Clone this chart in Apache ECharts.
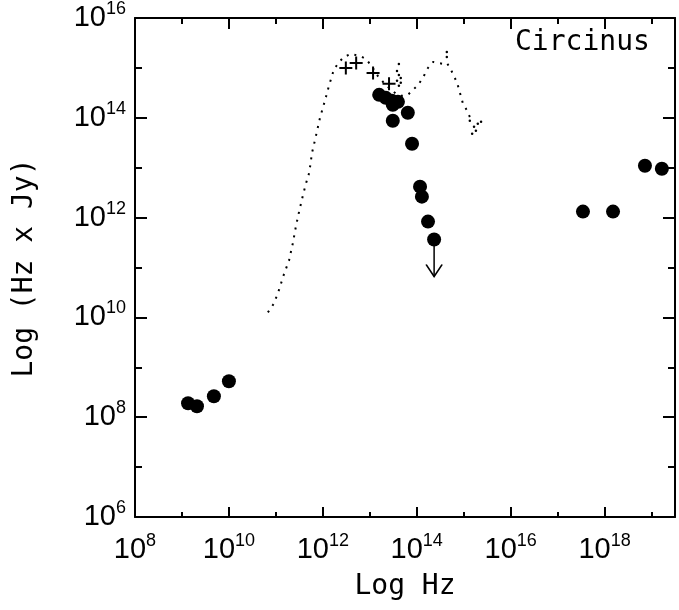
<!DOCTYPE html>
<html><head><meta charset="utf-8">
<script src="https://cdn.jsdelivr.net/npm/echarts@6/dist/echarts.min.js"></script>
<style>html,body{margin:0;padding:0;background:#fff}#c{width:679px;height:610px}</style>
</head><body><div id="c"></div>
<script>
// All values are log10 (Hz) and log10 (Hz x Jy)
const xLabelExponents = [8, 10, 12, 14, 16, 18];
const yLabelExponents = [6, 8, 10, 12, 14, 16];

const radioLogNu   = [9.13, 9.32, 9.68, 10.00];
const radioLogFlux = [8.28, 8.22, 8.42, 8.72];

const irLogNu   = [13.20, 13.34, 13.47, 13.60, 13.49, 13.81, 13.49, 13.90, 14.07, 14.11, 14.24, 14.37];
const irLogFlux = [14.46, 14.40, 14.34, 14.32, 14.26, 14.10, 13.94, 13.48, 12.62, 12.42, 11.92, 11.56];

const xrayLogNu   = [17.54, 18.18, 18.86, 19.22];
const xrayLogFlux = [12.12, 12.12, 13.04, 12.98];

const crossLogNu   = [12.49, 12.71, 13.07, 13.41];
const crossLogFlux = [15.00, 15.10, 14.90, 14.68];

const limitLogNu = 14.37;
const limitFrom  = 11.56;
const limitTo    = 10.82;

const modelLogNu = [10.83, 10.96, 11.07, 11.17, 11.28, 11.36, 11.43, 11.49, 11.58, 11.64, 11.71, 11.77, 11.83, 11.94, 12.05, 12.13, 12.24, 12.37, 12.45, 12.60, 12.79, 12.92, 13.05, 13.17, 13.30, 13.43, 13.56, 13.69, 13.81, 13.92, 14.03, 14.13, 14.24, 14.35, 14.45, 14.56, 14.64, 14.71, 14.77, 14.86, 14.92, 14.98, 15.05, 15.11, 15.18];
const modelLogFlux = [10.10, 10.28, 10.56, 10.86, 11.14, 11.48, 11.84, 12.10, 12.46, 12.68, 12.90, 13.30, 13.54, 14.00, 14.36, 14.64, 14.98, 15.14, 15.22, 15.28, 15.24, 15.18, 15.02, 14.84, 14.70, 14.58, 14.48, 14.44, 14.46, 14.56, 14.66, 14.80, 15.00, 15.12, 15.10, 15.08, 15.10, 15.00, 14.88, 14.70, 14.50, 14.30, 14.18, 14.06, 13.92];

const extraLogNu   = [13.62, 13.58, 13.62, 13.66, 13.58, 13.66, 13.62, 14.64, 14.64, 15.13, 15.22, 15.30, 15.37, 15.26, 15.18];
const extraLogFlux = [15.08, 14.94, 14.86, 14.80, 14.74, 14.70, 14.64, 15.32, 15.22, 13.94, 13.82, 13.88, 13.92, 13.74, 13.68];

const zip = (a, b) => a.map((v, i) => [v, b[i]]);

const rich = {
  b: {fontFamily: 'Liberation Sans', fontSize: 29, color: '#000'},
  s: {fontFamily: 'Liberation Sans', fontSize: 18, color: '#000', padding: [0, 0, 18, 0]}
};
function labelFmt(list) {
  return v => list.includes(v) ? '{b|10}{s|' + v + '}' : '';
}
const black = '#000';
function axis(kind, pos, interval, len, showLabel, showLine) {
  const isX = kind === 'x';
  return {
    type: 'value', position: pos,
    min: isX ? 8 : 6, max: isX ? 19.5 : 16, interval: interval,
    axisLine: {show: showLine, onZero: false, lineStyle: {color: black, width: 2}},
    axisTick: {show: true, inside: true, length: len, lineStyle: {color: black, width: 2}},
    axisLabel: {show: showLabel, margin: isX ? 15 : 9, rich: rich,
      formatter: labelFmt(isX ? xLabelExponents : yLabelExponents)},
    splitLine: {show: false}
  };
}

const chart = echarts.init(document.getElementById('c'), null, {renderer: 'canvas'});
const dotStyle = {color: black, opacity: 1};
chart.setOption({
  animation: false,
  backgroundColor: '#fff',
  grid: {left: 135, right: 4, top: 17, bottom: 93, containLabel: false},
  xAxis: [
    axis('x', 'bottom', 2, 10, true, true),
    axis('x', 'bottom', 1, 5, false, false),
    axis('x', 'top', 2, 11, false, true),
    axis('x', 'top', 1, 6, false, false)
  ],
  yAxis: [
    axis('y', 'left', 2, 12, true, true),
    axis('y', 'left', 1, 7, false, false),
    axis('y', 'right', 2, 12, false, true),
    axis('y', 'right', 1, 7, false, false)
  ],
  graphic: [
    {type: 'text', x: 25, y: 268, rotation: Math.PI / 2,
     style: {text: 'Log (Hz x Jy)', font: '28px "DejaVu Sans Mono"', fill: black,
             align: 'center', verticalAlign: 'middle', textAlign: 'center', textVerticalAlign: 'middle'}},
    {type: 'text', x: 405, y: 587,
     style: {text: 'Log Hz', font: '28px "DejaVu Sans Mono"', fill: black,
             align: 'center', verticalAlign: 'middle', textAlign: 'center', textVerticalAlign: 'middle'}},
    {type: 'text', x: 515, y: 43,
     style: {text: 'Circinus', font: '28px "DejaVu Sans Mono"', fill: black,
             align: 'left', verticalAlign: 'middle', textAlign: 'left', textVerticalAlign: 'middle'}}
  ],
  series: [
    {type: 'line', data: zip(modelLogNu, modelLogFlux), symbol: 'none', silent: true,
     lineStyle: {color: black, width: 2, type: [2, 6]}},
    {type: 'scatter', data: zip(extraLogNu, extraLogFlux), symbol: 'circle', symbolSize: 2.5, itemStyle: dotStyle, silent: true},
    {type: 'scatter', data: zip(crossLogNu, crossLogFlux), symbol: 'path://M6 0V12M0 6H12', symbolSize: 13,
     itemStyle: {color: 'rgba(0,0,0,0)', borderColor: black, borderWidth: 2, opacity: 1}, silent: true},
    {type: 'line', silent: true, lineStyle: {color: black, width: 1.5},
     itemStyle: {color: 'rgba(0,0,0,0)', borderColor: black, borderWidth: 1.5},
     data: [
       {value: [limitLogNu, limitFrom], symbol: 'none'},
       {value: [limitLogNu, limitTo], symbol: 'path://M0 0L8 10L16 0', symbolSize: [16, 12], symbolOffset: [0, -6]}
     ]},
    {type: 'scatter', data: zip(radioLogNu, radioLogFlux), symbolSize: 14, itemStyle: dotStyle, silent: true},
    {type: 'scatter', data: zip(irLogNu, irLogFlux), symbolSize: 14, itemStyle: dotStyle, silent: true},
    {type: 'scatter', data: zip(xrayLogNu, xrayLogFlux), symbolSize: 14, itemStyle: dotStyle, silent: true}
  ]
});
</script></body></html>
